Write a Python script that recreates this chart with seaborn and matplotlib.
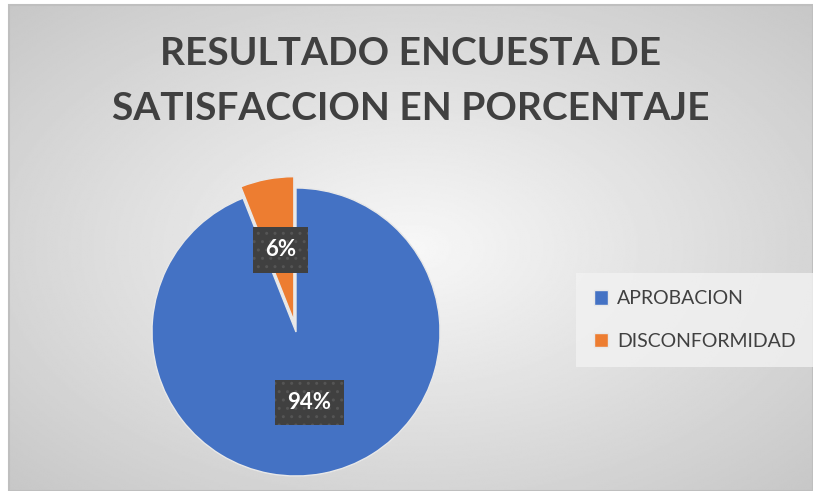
import numpy as np
import seaborn as sns
import matplotlib.pyplot as plt
from matplotlib.patches import Rectangle

sns.set_theme(style="white")
plt.rcParams['font.family'] = ['Lato', 'DejaVu Sans']

# data
categorias = ["APROBACION", "DISCONFORMIDAD"]
porcentajes = [94, 6]
colores = ["#4472C4", "#ED7D31"]
titulo = "RESULTADO ENCUESTA DE\nSATISFACCION EN PORCENTAJE"

W, H = 813, 491
fig = plt.figure(figsize=(W / 100, H / 100), dpi=100)
fig.patch.set_facecolor("white")

# fondo con degradado radial
bg = fig.add_axes([9 / W, 0, 1 - 9 / W, (H - 5) / H])
yy, xx = np.mgrid[-1:1:300j, -1:1:500j]
d = np.sqrt(xx ** 2 + yy ** 2) / np.sqrt(2)
bg.imshow(0.97 - 0.19 * d, cmap="gray", vmin=0, vmax=1, aspect="auto",
          extent=(0, 1, 0, 1), interpolation="bilinear")
bg.add_patch(Rectangle((0, 0), 1, 1, transform=bg.transAxes, fill=False,
                       edgecolor="#bfbfbf", lw=1.5, clip_on=False))
bg.set_axis_off()

# pastel
cx, cy, r = 296, H - 332, 144
ax = fig.add_axes([(cx - r) / W, (cy - r) / H, 2 * r / W, 2 * r / H])
wedges, _, autotexts = ax.pie(
    porcentajes, colors=colores, startangle=90, counterclock=False,
    explode=[0, 0.08], autopct="%1.0f%%", pctdistance=0.5,
    wedgeprops=dict(edgecolor="#e8e8e8", linewidth=1),
    textprops=dict(color="white", fontsize=16, fontweight="bold"),
)
for w in wedges:
    w.set_clip_on(False)
for t in autotexts:
    t.set_bbox(dict(boxstyle="square,pad=0.55", facecolor="#404040",
                    edgecolor="#555555", hatch="..", linewidth=0))
ax.set_xlim(-1, 1)
ax.set_ylim(-1, 1)
ax.set_axis_off()

fig.text(0.505, (H - 81) / H, titulo, ha="center", va="center",
         fontsize=28, fontweight="bold", color="#404040", linespacing=1.7)

leg = fig.legend(wedges, categorias, loc="center left",
                 bbox_to_anchor=(576 / W, (H - 320) / H), fontsize=14,
                 frameon=True, fancybox=False, handlelength=0.75,
                 handleheight=0.75, handletextpad=0.45, labelspacing=1.3,
                 borderpad=0.9, borderaxespad=0)
leg.get_frame().set_facecolor("#f2f2f2")
leg.get_frame().set_edgecolor("none")
leg.get_frame().set_alpha(0.8)
for t in leg.get_texts():
    t.set_color("#404040")

fig.savefig("out.png", dpi=100)
